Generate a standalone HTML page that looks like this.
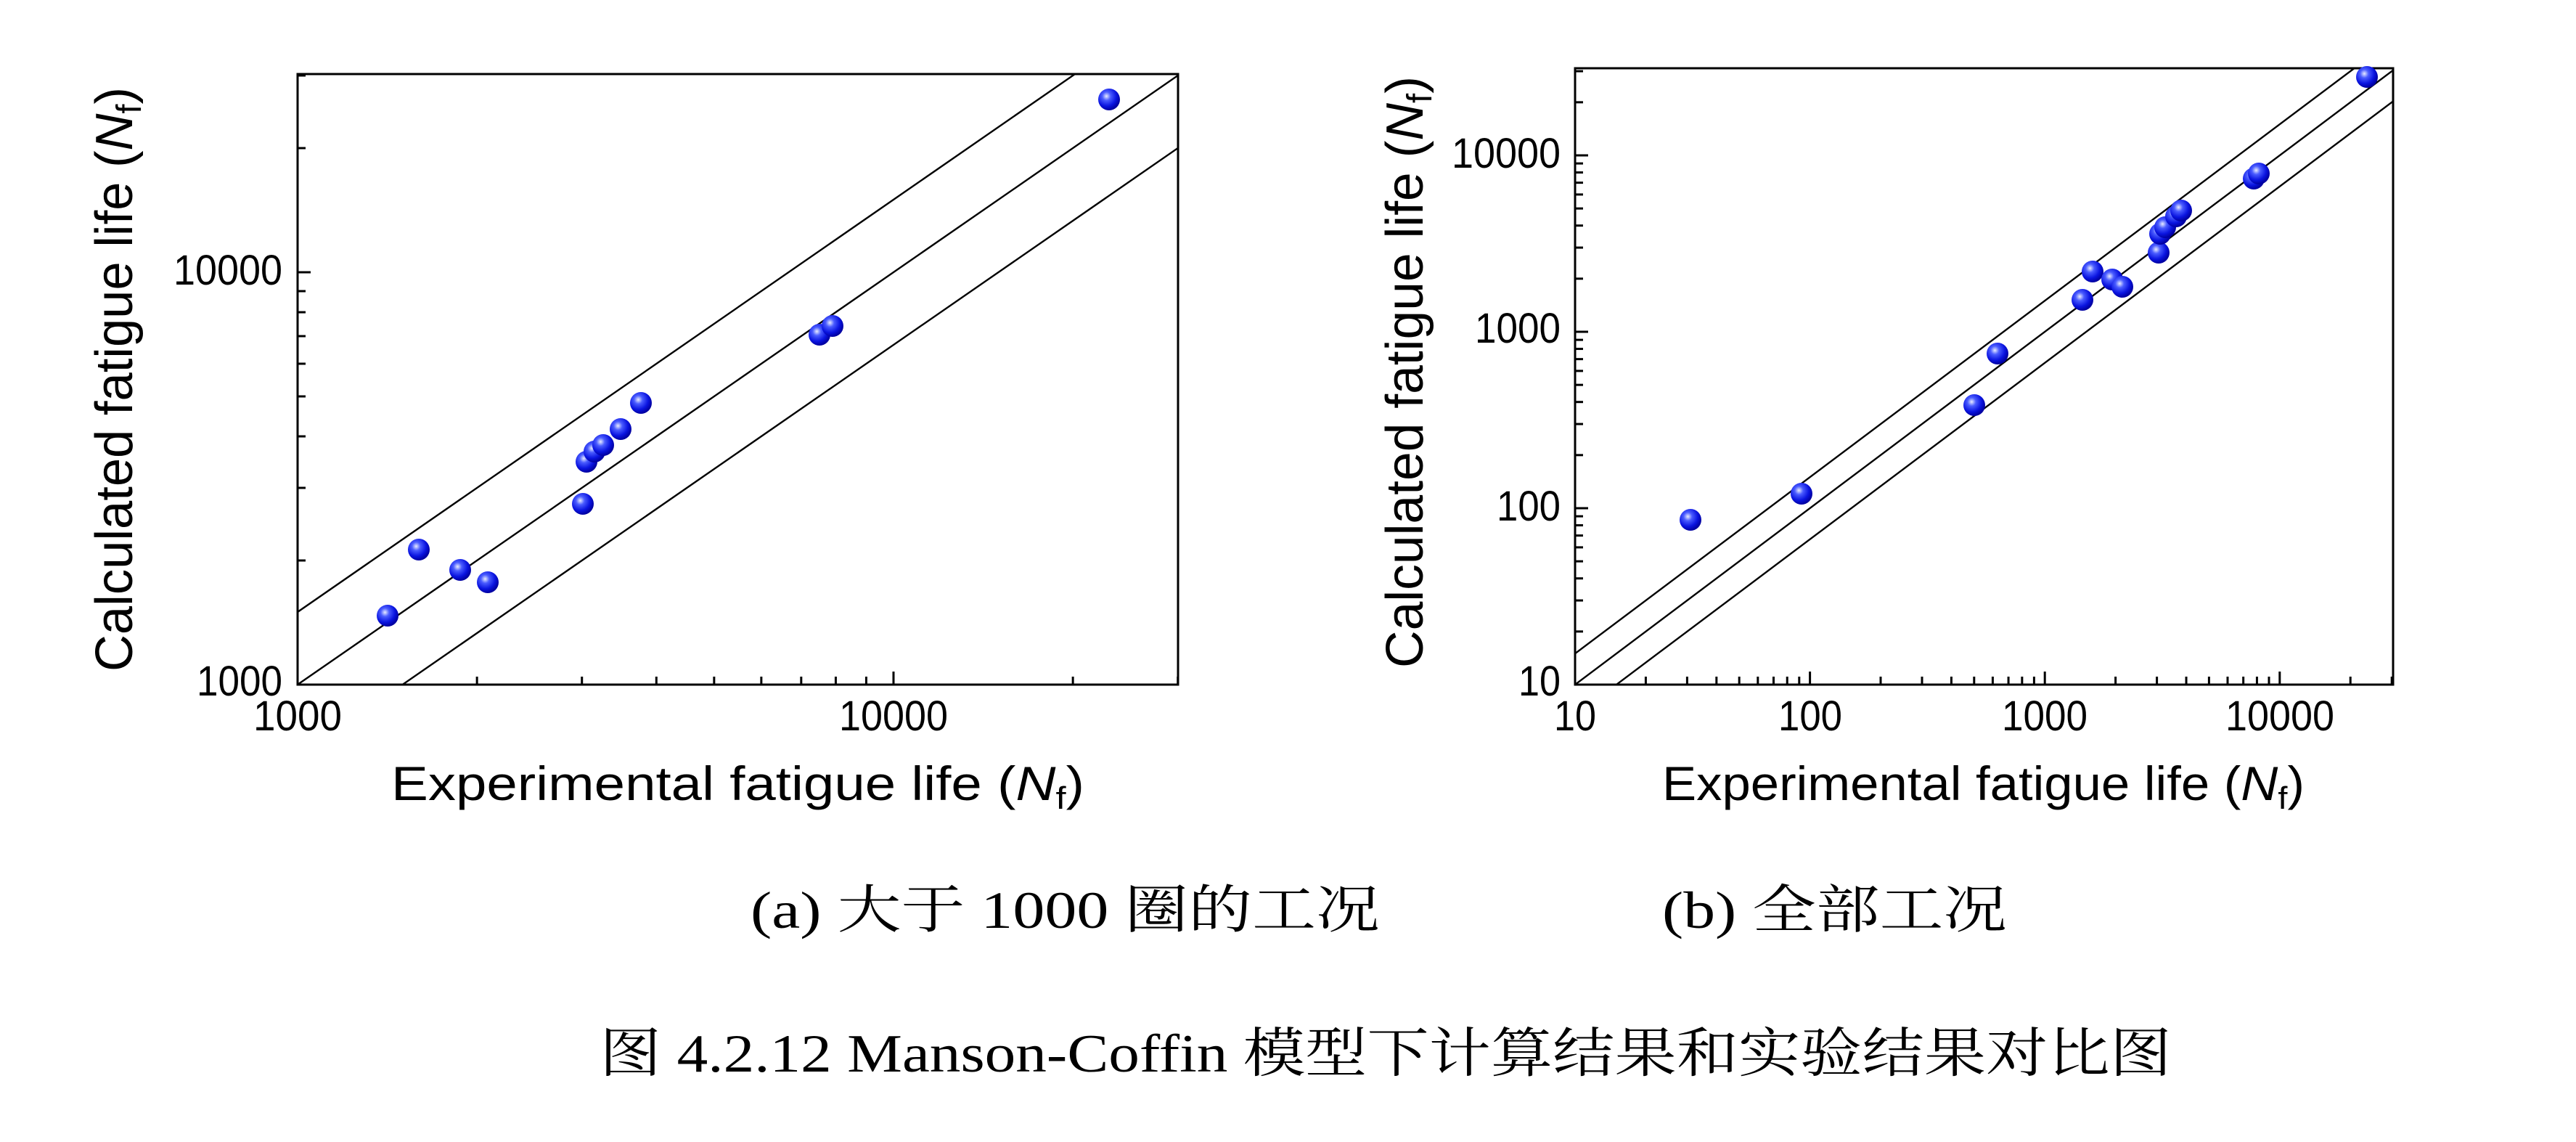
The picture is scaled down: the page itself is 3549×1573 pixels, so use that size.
<!DOCTYPE html>
<html><head><meta charset="utf-8">
<style>
html,body{margin:0;padding:0;background:#fff;}
svg{display:block;}
.t{font-family:"Liberation Sans",sans-serif;fill:#000;}
.c{font-family:"Liberation Serif","Noto Serif CJK SC","Noto Sans CJK SC",serif;fill:#000;}
</style></head>
<body>
<svg id="s" width="3549" height="1573" viewBox="0 0 3549 1573" xmlns="http://www.w3.org/2000/svg">
<defs>
<radialGradient id="g" cx="0.38" cy="0.35" r="0.65">
<stop offset="0" stop-color="#e8ecff"/>
<stop offset="0.3" stop-color="#4a5cff"/>
<stop offset="0.7" stop-color="#0a14e0"/>
<stop offset="1" stop-color="#0000a0"/>
</radialGradient>
</defs>
<rect width="3549" height="1573" fill="#fff"/>
<g id="L"></g>
<g id="R"></g>

<!-- left plot labels -->
<text class="t" x="389" y="392" font-size="58" text-anchor="end" textLength="150" lengthAdjust="spacingAndGlyphs">10000</text>
<text class="t" x="389" y="958" font-size="58" text-anchor="end" textLength="118" lengthAdjust="spacingAndGlyphs">1000</text>
<text class="t" x="410" y="1006" font-size="58" text-anchor="middle" textLength="122" lengthAdjust="spacingAndGlyphs">1000</text>
<text class="t" x="1231" y="1006" font-size="58" text-anchor="middle" textLength="150" lengthAdjust="spacingAndGlyphs">10000</text>
<text class="t" x="539" y="1102" font-size="66" textLength="955" lengthAdjust="spacingAndGlyphs">Experimental fatigue life (<tspan font-style="italic">N</tspan><tspan font-size="44" dy="12">f</tspan><tspan dy="-12">)</tspan></text>
<text class="t" transform="translate(182,925) rotate(-90)" font-size="72" textLength="805" lengthAdjust="spacingAndGlyphs">Calculated fatigue life (<tspan font-style="italic">N</tspan><tspan font-size="48" dy="12">f</tspan><tspan dy="-12">)</tspan></text>

<!-- right plot labels -->
<text class="t" x="2150" y="231" font-size="58" text-anchor="end" textLength="150" lengthAdjust="spacingAndGlyphs">10000</text>
<text class="t" x="2150" y="472" font-size="58" text-anchor="end" textLength="118" lengthAdjust="spacingAndGlyphs">1000</text>
<text class="t" x="2150" y="717" font-size="58" text-anchor="end" textLength="88" lengthAdjust="spacingAndGlyphs">100</text>
<text class="t" x="2150" y="958" font-size="58" text-anchor="end" textLength="58" lengthAdjust="spacingAndGlyphs">10</text>
<text class="t" x="2170" y="1006" font-size="58" text-anchor="middle" textLength="58" lengthAdjust="spacingAndGlyphs">10</text>
<text class="t" x="2494" y="1006" font-size="58" text-anchor="middle" textLength="88" lengthAdjust="spacingAndGlyphs">100</text>
<text class="t" x="2817" y="1006" font-size="58" text-anchor="middle" textLength="118" lengthAdjust="spacingAndGlyphs">1000</text>
<text class="t" x="3141" y="1006" font-size="58" text-anchor="middle" textLength="150" lengthAdjust="spacingAndGlyphs">10000</text>
<text class="t" x="2290" y="1102" font-size="66" textLength="885" lengthAdjust="spacingAndGlyphs">Experimental fatigue life (<tspan font-style="italic">N</tspan><tspan font-size="44" dy="12">f</tspan><tspan dy="-12">)</tspan></text>
<text class="t" transform="translate(1960,920) rotate(-90)" font-size="72" textLength="815" lengthAdjust="spacingAndGlyphs">Calculated fatigue life (<tspan font-style="italic">N</tspan><tspan font-size="48" dy="12">f</tspan><tspan dy="-12">)</tspan></text>

<!-- captions -->
<text class="c" x="1034" y="1278" font-size="72" textLength="867" lengthAdjust="spacingAndGlyphs">(a)  大于 1000 圈的工况</text>
<text class="c" x="2290" y="1278" font-size="72" textLength="475" lengthAdjust="spacingAndGlyphs">(b)  全部工况</text>
<text class="c" x="826" y="1476" font-size="74" textLength="2166" lengthAdjust="spacingAndGlyphs">图 4.2.12 Manson-Coffin 模型下计算结果和实验结果对比图</text>
</svg>
<script>
var NS="http://www.w3.org/2000/svg";
function el(p,n,a){var e=document.createElementNS(NS,n);for(var k in a)e.setAttribute(k,a[k]);p.appendChild(e);return e;}
function plot(g,x0,x1,y0,y1,lx0,lx1,ly0,ly1,pts){
  var X=function(v){return x0+(Math.log10(v)-lx0)/(lx1-lx0)*(x1-x0);};
  var Y=function(v){return y1-(Math.log10(v)-ly0)/(ly1-ly0)*(y1-y0);};
  // ticks
  for(var d=Math.floor(lx0);d<=lx1;d++){for(var m=1;m<10;m++){var v=m*Math.pow(10,d);var lv=Math.log10(v);if(lv<lx0-1e-9||lv>lx1+1e-9)continue;var x=X(v);var L=(m==1)?18:11;el(g,"line",{x1:x,y1:y1,x2:x,y2:y1-L,stroke:"#000","stroke-width":3});}}
  for(var d=Math.floor(ly0);d<=ly1;d++){for(var m=1;m<10;m++){var v=m*Math.pow(10,d);var lv=Math.log10(v);if(lv<ly0-1e-9||lv>ly1+1e-9)continue;var y=Y(v);var L=(m==1)?18:11;el(g,"line",{x1:x0,y1:y,x2:x0+L,y2:y,stroke:"#000","stroke-width":3});}}
  // diagonal lines, clipped
  var cid="c"+x0;var cp=el(g,"clipPath",{id:cid});el(cp,"rect",{x:x0,y:y0,width:x1-x0,height:y1-y0});
  var gg=el(g,"g",{"clip-path":"url(#"+cid+")"});
  [1,1.5,1/1.5].forEach(function(f){var a=Math.pow(10,lx0)/2,b=Math.pow(10,lx1)*2;el(gg,"line",{x1:X(a),y1:Y(a*f),x2:X(b),y2:Y(b*f),stroke:"#000","stroke-width":2.4});});
  el(g,"rect",{x:x0,y:y0,width:x1-x0,height:y1-y0,fill:"none",stroke:"#000","stroke-width":3});
  pts.forEach(function(p){el(g,"circle",{cx:p[0],cy:p[1],r:15,fill:"url(#g)"});});
}
var Lp=[[534,848],[577,757],[634,785],[672,802],[803,694],[808,636],[819,622],[831,613],[855,591],[883,555],[1129,461],[1147,449],[1528,137]];
var Rp=[[2329,716],[2482,680],[2720,558],[2752,487],[2869,413],[2883,374],[2910,385],[2924,395],[2974,348],[2976,322],[2983,313],[2998,298],[3005,290],[3105,246],[3112,239],[3261,106]];
plot(document.getElementById("L"),410,1623,102,943,3,3+1213/821,3,3+841/568,Lp);
plot(document.getElementById("R"),2170,3297,94,943,1,1+1127/323.6,1,1+849/243,Rp);
</script>
</body></html>
